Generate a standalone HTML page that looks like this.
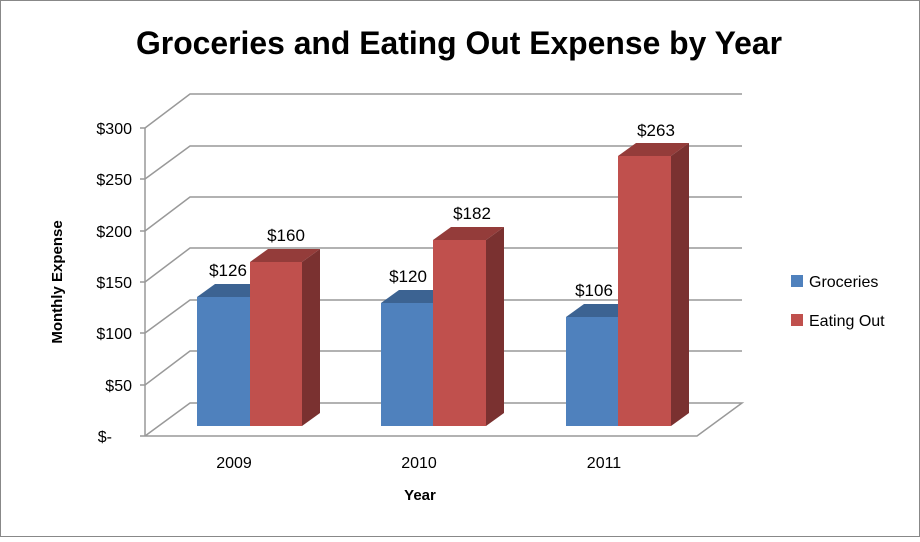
<!DOCTYPE html>
<html><head><style>body{margin:0;background:#fff}</style></head><body>
<svg width="920" height="537" xmlns="http://www.w3.org/2000/svg" font-family="Liberation Sans, sans-serif">
<rect x="0.5" y="0.5" width="919" height="536" fill="#fff" stroke="#888"/>
<text x="459" y="54" text-anchor="middle" font-size="32" font-weight="bold" textLength="646" lengthAdjust="spacingAndGlyphs">Groceries and Eating Out Expense by Year</text>
<g stroke="#999" stroke-width="1.5" fill="none">
<polyline points="145,128 190,94 742,94"/>
<polyline points="145,179 190,146 742,146"/>
<polyline points="145,231 190,197 742,197"/>
<polyline points="145,282 190,248 742,248"/>
<polyline points="145,333 190,300 742,300"/>
<polyline points="145,385 190,351 742,351"/>
<polyline points="145,436 190,403 742,403 697,436 145,436"/>
<line x1="145" y1="128" x2="145" y2="436"/>
<line x1="140" y1="128" x2="145" y2="128"/><line x1="140" y1="179" x2="145" y2="179"/><line x1="140" y1="231" x2="145" y2="231"/><line x1="140" y1="282" x2="145" y2="282"/><line x1="140" y1="333" x2="145" y2="333"/><line x1="140" y1="385" x2="145" y2="385"/><line x1="140" y1="436" x2="145" y2="436"/>
</g>
<g font-size="16" text-anchor="end">
<text x="132" y="134">$300</text><text x="132" y="185">$250</text><text x="132" y="237">$200</text><text x="132" y="288">$150</text><text x="132" y="339">$100</text><text x="132" y="391">$50</text><text x="112" y="442">$-</text>
</g>
<text transform="translate(62,282) rotate(-90)" text-anchor="middle" font-size="15" font-weight="bold">Monthly Expense</text>
<polygon points="197,297 215,284 268,284 250,297" fill="#3c6392"/><rect x="197" y="297" width="53" height="129" fill="#4f81bd"/>
<polygon points="250,262 268,249 320,249 302,262" fill="#943c3a"/><polygon points="302,262 320,249 320,413 302,426" fill="#7a3130"/><rect x="250" y="262" width="52" height="164" fill="#c0504d"/>
<polygon points="381,303 399,290 451,290 433,303" fill="#3c6392"/><rect x="381" y="303" width="52" height="123" fill="#4f81bd"/>
<polygon points="433,240 451,227 504,227 486,240" fill="#943c3a"/><polygon points="486,240 504,227 504,413 486,426" fill="#7a3130"/><rect x="433" y="240" width="53" height="186" fill="#c0504d"/>
<polygon points="566,317 584,304 636,304 618,317" fill="#3c6392"/><rect x="566" y="317" width="52" height="109" fill="#4f81bd"/>
<polygon points="618,156 636,143 689,143 671,156" fill="#943c3a"/><polygon points="671,156 689,143 689,413 671,426" fill="#7a3130"/><rect x="618" y="156" width="53" height="270" fill="#c0504d"/>
<g font-size="17" text-anchor="middle">
<text x="228" y="276">$126</text><text x="286" y="241">$160</text>
<text x="408" y="282">$120</text><text x="472" y="219">$182</text>
<text x="594" y="296">$106</text><text x="656" y="136">$263</text>
</g>
<g font-size="16" text-anchor="middle">
<text x="234" y="468">2009</text><text x="419" y="468">2010</text><text x="604" y="468">2011</text>
</g>
<text x="420" y="500" text-anchor="middle" font-size="15" font-weight="bold">Year</text>
<rect x="791" y="275" width="12" height="12" fill="#4f81bd"/><text x="809" y="287" font-size="16">Groceries</text>
<rect x="791" y="314" width="12" height="12" fill="#c0504d"/><text x="809" y="326" font-size="16">Eating Out</text>
</svg>
</body></html>
